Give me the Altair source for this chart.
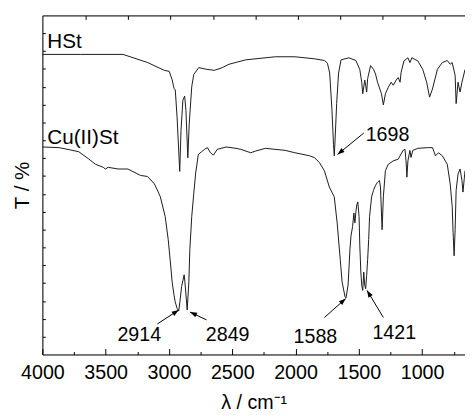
import math
import altair as alt
import pandas as pd

# ---------------- data ----------------
hst_w = [4000, 3700, 3363, 3169, 3037, 2998, 2975, 2960, 2950, 2936, 2915, 2905, 2890, 2876, 2866,
         2851, 2840, 2820, 2804, 2765, 2703, 2641, 2579, 2525, 2393, 2160, 2005, 1849, 1772, 1748,
         1730, 1712, 1700, 1694, 1688, 1675, 1660, 1640, 1578, 1523, 1492, 1477, 1469, 1453, 1446,
         1438, 1430, 1407, 1384, 1368, 1352, 1321, 1306, 1290, 1267, 1244, 1228, 1205, 1189, 1174,
         1166, 1143, 1112, 1096, 1081, 1034, 995, 964, 941, 918, 879, 840, 801, 778, 762, 739, 731,
         716, 700, 685, 661]
hst_t = [88.5, 88.5, 88.5, 86.1, 83.8, 83.5, 81.0, 78.5, 78.0, 70.0, 54.0, 66.0, 75.0, 76.2, 72.0,
         58.0, 68.0, 79.0, 82.6, 84.6, 84.1, 83.8, 84.6, 85.6, 86.9, 87.8, 87.8, 87.2, 86.7, 85.9,
         83.0, 72.0, 62.0, 58.6, 63.0, 74.0, 83.0, 86.9, 87.5, 86.7, 84.0, 80.3, 76.9, 80.9, 79.4,
         77.4, 81.4, 85.2, 84.1, 82.7, 80.3, 76.9, 73.6, 76.9, 78.8, 80.3, 79.4, 80.9, 81.7, 80.3,
         83.2, 86.6, 87.5, 86.1, 87.5, 86.6, 84.1, 80.3, 75.9, 78.3, 84.1, 86.1, 86.7, 85.6, 86.1,
         82.3, 74.0, 80.3, 77.4, 80.3, 84.0]

cu_w = [4000, 3868, 3775, 3713, 3635, 3581, 3519, 3503, 3480, 3402, 3325, 3224, 3169, 3115, 3092,
        3068, 3030, 3006, 2991, 2975, 2960, 2952, 2936, 2923, 2913, 2900, 2880, 2874, 2856, 2843,
        2835, 2820, 2804, 2789, 2768, 2742, 2719, 2696, 2672, 2649, 2618, 2548, 2470, 2432, 2354,
        2315, 2238, 2082, 2005, 1888, 1849, 1811, 1772, 1733, 1694, 1671, 1647, 1632, 1609, 1601,
        1585, 1570, 1562, 1549, 1539, 1531, 1523, 1516, 1508, 1498, 1492, 1484, 1477, 1469, 1461,
        1453, 1446, 1438, 1430, 1422, 1415, 1399, 1384, 1368, 1352, 1337, 1329, 1316, 1306, 1290,
        1267, 1228, 1189, 1150, 1135, 1127, 1120, 1112, 1096, 1088, 1073, 1034, 957, 918, 894,
        871, 840, 801, 778, 762, 755, 747, 739, 731, 716, 700, 685, 677, 661]
cu_t = [61.2, 61.0, 60.3, 59.8, 57.7, 56.1, 55.2, 54.7, 55.2, 54.7, 54.7, 52.8, 52.5, 50.3, 48.5,
        46.5, 40.7, 33.9, 28.1, 21.4, 17.5, 15.7, 13.6, 12.8, 15.7, 20.0, 23.5, 21.4, 13.1, 21.4,
        31.0, 40.7, 47.5, 53.5, 59.0, 59.8, 60.5, 61.0, 59.5, 58.8, 60.5, 61.2, 60.8, 60.5, 59.5,
        60.0, 60.8, 60.2, 59.5, 58.6, 58.0, 56.6, 54.2, 49.4, 46.5, 38.8, 28.1, 21.4, 17.0, 16.7,
        20.4, 31.0, 34.9, 37.8, 41.7, 38.8, 42.1, 44.1, 45.0, 40.7, 32.0, 24.3, 20.4, 18.9, 24.3,
        20.4, 19.4, 23.3, 28.1, 33.9, 40.7, 46.5, 48.4, 49.9, 50.8, 51.3, 49.4, 36.8, 46.5, 54.2,
        56.1, 57.1, 57.6, 60.2, 60.5, 57.1, 52.3, 57.1, 60.2, 58.1, 60.2, 60.8, 61.0, 61.0, 58.6,
        59.5, 58.6, 56.1, 50.3, 43.6, 35.9, 29.1, 36.8, 48.4, 53.2, 54.7, 51.3, 47.9, 54.2]

series_names = ["HSt", "Cu(II)St"]
series_label_w = [3961, 3961]
series_label_t = [92.0, 63.9]

peak_labels = ["1698", "2914", "2849", "1588", "1421"]
peak_label_w = [1273, 3235, 2536, 1843, 1220]
peak_label_t = [64.8, 5.8, 5.8, 5.2, 6.2]
arrow_w0 = [1461, 3092, 2703, 1772, 1306]
arrow_t0 = [65.3, 9.0, 10.2, 10.9, 10.9]
arrow_w1 = [1668, 2923, 2833, 1603, 1435]
arrow_t1 = [59.0, 13.1, 12.5, 16.5, 18.9]

x_major = [4000, 3500, 3000, 2500, 2000, 1500, 1000]
x_minor = [3750, 3250, 2750, 2250, 1750, 1250, 750]
x_top = [3656, 3321, 2987, 2651, 2315, 1984, 1650, 1316, 982]
y_ticks = [i * 100 / 19 for i in range(1, 19)]

# ---------------- layout ----------------
W, H = 430, 345
XMIN, XMAX = 661, 4000
FONT = "Liberation Sans"

df = pd.DataFrame({
    "w": hst_w + cu_w,
    "t": hst_t + cu_t,
    "s": ["HSt"] * len(hst_w) + ["Cu(II)St"] * len(cu_w),
})
names_df = pd.DataFrame({"name": series_names, "w": series_label_w, "t": series_label_t})
peaks_df = pd.DataFrame({"lab": peak_labels, "w": peak_label_w, "t": peak_label_t})

sx = W / (XMAX - XMIN)
sy = H / 100.0
angles = []
for a, b, c, d in zip(arrow_w0, arrow_t0, arrow_w1, arrow_t1):
    dx = -(c - a) * sx
    dy = -(d - b) * sy
    angles.append(math.degrees(math.atan2(dx, -dy)) % 360)
arrows_df = pd.DataFrame({"w0": arrow_w0, "t0": arrow_t0, "w1": arrow_w1, "t1": arrow_t1, "ang": angles})

xs = alt.Scale(domain=[XMIN, XMAX], reverse=True, nice=False, zero=False)
ys = alt.Scale(domain=[0, 100], nice=False, zero=False)

lines = alt.Chart(df).mark_line(color="#1a1a1a", strokeWidth=1).encode(
    x=alt.X("w:Q", scale=xs, axis=alt.Axis(
        orient="bottom", values=x_major, format="d", ticks=False, tickSize=0, labelPadding=8,
        labelFontSize=20, labelFont=FONT, labelColor="black", labelFlush=False,
        title="λ / cm⁻¹", titleFont=FONT, titleFontSize=20, titleFontWeight="normal",
        titleColor="black", titlePadding=11, domainColor="black", domainWidth=1, grid=False)),
    y=alt.Y("t:Q", scale=ys, axis=alt.Axis(
        orient="left", labels=False, ticks=False, tickSize=0, title="T / %", titleFont=FONT,
        titleFontSize=21, titleFontWeight="normal", titleColor="black", titlePadding=10,
        domainColor="black", domainWidth=1, grid=False)),
    detail="s:N",
)

ticks_major = alt.Chart(df).mark_line(opacity=0).encode(
    x=alt.X("w:Q", scale=xs, axis=alt.Axis(
        orient="top", offset=-H, values=x_major, tickSize=6, tickColor="black", labels=False,
        domain=False, title="", grid=False)),
    y=alt.Y("t:Q", scale=ys, axis=alt.Axis(
        orient="right", offset=-W, values=y_ticks, tickSize=3, tickColor="black", labels=False,
        domain=False, title="", grid=False)),
    detail="s:N",
)

ticks_minor = alt.Chart(df).mark_line(opacity=0).encode(
    x=alt.X("w:Q", scale=xs, axis=alt.Axis(
        orient="top", offset=-H, values=x_minor, tickSize=3, tickColor="black", labels=False,
        domain=False, title="", grid=False)),
    y=alt.Y("t:Q", scale=ys, axis=None),
    detail="s:N",
)

ticks_top = alt.Chart(df).mark_line(opacity=0).encode(
    x=alt.X("w:Q", scale=xs, axis=alt.Axis(
        orient="bottom", offset=-H, values=x_top, tickSize=4, tickColor="black", labels=False,
        domain=True, domainColor="black", domainWidth=1, title="", grid=False)),
    y=alt.Y("t:Q", scale=ys, axis=None),
    detail="s:N",
)

names = alt.Chart(names_df).mark_text(
    align="left", baseline="middle", font=FONT, fontSize=21, color="black"
).encode(
    x=alt.X("w:Q", scale=xs, axis=None),
    y=alt.Y("t:Q", scale=ys, axis=None),
    text="name:N",
)

peaks = alt.Chart(peaks_df).mark_text(
    align="center", baseline="middle", font=FONT, fontSize=20, color="black"
).encode(
    x=alt.X("w:Q", scale=xs, axis=None),
    y=alt.Y("t:Q", scale=ys, axis=None),
    text="lab:N",
)

shafts = alt.Chart(arrows_df).mark_rule(color="black", strokeWidth=1).encode(
    x=alt.X("w0:Q", scale=xs, axis=None),
    y=alt.Y("t0:Q", scale=ys, axis=None),
    x2="w1:Q",
    y2="t1:Q",
)

heads = alt.Chart(arrows_df).mark_point(
    shape="M0,0 L-0.36,1 L0.36,1 Z", filled=True, color="black", opacity=1, size=200, strokeWidth=0
).encode(
    x=alt.X("w1:Q", scale=xs, axis=None),
    y=alt.Y("t1:Q", scale=ys, axis=None),
    angle=alt.Angle("ang:Q", scale=None),
)

chart = alt.layer(lines, ticks_major, ticks_minor, ticks_top, names, peaks, shafts, heads).resolve_axis(
    x="independent", y="independent"
).properties(
    width=W, height=H,
    autosize=alt.AutoSizeParams(type="none"),
    padding={"left": 35, "top": 4, "right": 0, "bottom": 56},
).configure_view(strokeWidth=0).configure(font=FONT)

chart.save("out.html", embed_options={"renderer": "svg", "actions": False})
